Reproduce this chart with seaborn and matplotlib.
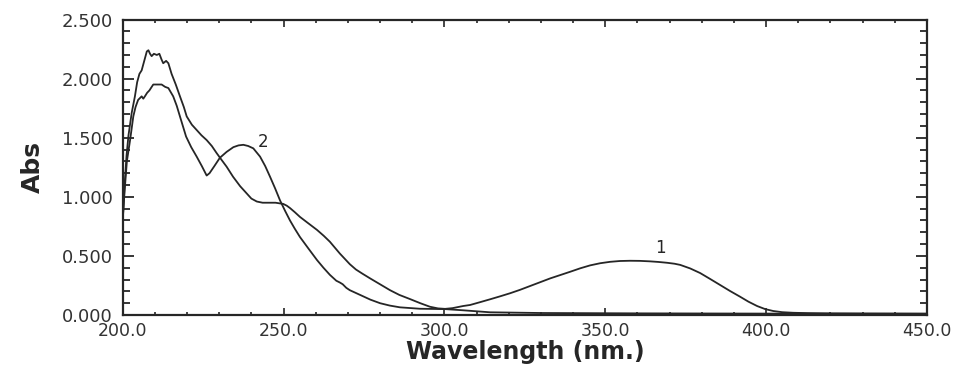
import numpy as np
import pandas as pd
import matplotlib
matplotlib.use("Agg")
import matplotlib.pyplot as plt
import seaborn as sns
from matplotlib.ticker import MultipleLocator, FormatStrFormatter

# ── Spectrum 1 (band at ~360 nm) ─────────────────────────────────────────────
wl1 = [200.0, 200.6, 201.2, 201.8, 202.8, 203.8, 204.5, 205.2, 205.9, 206.9,
       207.5, 208.0, 208.5, 209.0, 209.7, 210.6, 211.4, 212.1, 212.6, 213.5,
       214.2, 215.2, 216.5, 217.8, 219.0, 219.9, 221.5, 223.0, 224.5, 226.1,
       227.7, 229.2, 230.8, 232.3, 234.3, 236.5, 238.5, 240.0, 241.7, 243.5,
       245.0, 247.5, 249.9, 251.0, 252.0, 253.5, 255.1, 257.5, 260.4, 262.5,
       264.4, 267.5, 270.6, 272.5, 274.5, 276.9, 280.0, 283.1, 286.0, 289.3,
       292.5, 295.5, 298.0, 300.2, 302.5, 305.8, 308.0, 311.0, 314.2, 317.3,
       320.4, 323.5, 326.6, 329.8, 332.9, 336.0, 339.1, 342.2, 345.3, 348.4,
       351.5, 354.6, 357.7, 360.8, 363.9, 366.5, 369.2, 371.5, 373.3, 376.4,
       379.5, 382.6, 385.7, 388.8, 391.9, 394.5, 397.2, 399.7, 402.2, 405.0,
       408.4, 413.0, 419.0, 430.0, 450.0]
abs1 = [0.80, 1.10, 1.35, 1.52, 1.71, 1.85, 1.97, 2.04, 2.07, 2.17,
        2.23, 2.24, 2.21, 2.19, 2.21, 2.20, 2.21, 2.16, 2.13, 2.15,
        2.13, 2.04, 1.95, 1.85, 1.76, 1.68, 1.61, 1.565, 1.52, 1.48,
        1.43, 1.37, 1.31, 1.255, 1.17, 1.09, 1.03, 0.985, 0.96, 0.95,
        0.95, 0.95, 0.94, 0.925, 0.905, 0.87, 0.83, 0.78, 0.72, 0.67,
        0.62, 0.52, 0.43, 0.385, 0.35, 0.31, 0.26, 0.21, 0.17, 0.135,
        0.10, 0.07, 0.056, 0.052, 0.058, 0.076, 0.085, 0.108, 0.133, 0.158,
        0.184, 0.213, 0.245, 0.278, 0.31, 0.338, 0.366, 0.395, 0.42, 0.438,
        0.45, 0.457, 0.459, 0.458, 0.454, 0.449, 0.442, 0.434, 0.424, 0.394,
        0.355, 0.305, 0.254, 0.203, 0.155, 0.113, 0.076, 0.05, 0.034, 0.024,
        0.019, 0.016, 0.014, 0.013, 0.012]

# ── Spectrum 2 (band at ~238 nm) ─────────────────────────────────────────────
wl2 = [200.0, 200.6, 201.3, 202.3, 203.3, 204.0, 204.8, 205.9, 206.4, 206.9,
       207.6, 208.3, 209.5, 210.8, 212.1, 213.2, 214.2, 215.7, 216.8, 217.8,
       219.7, 221.3, 223.0, 224.6, 226.1, 227.0, 228.5, 230.2, 232.3, 234.4,
       236.0, 237.5, 239.0, 240.6, 242.7, 244.3, 245.8, 247.4, 248.9, 250.5,
       252.0, 253.5, 255.1, 257.8, 260.4, 262.4, 264.4, 266.4, 267.5, 268.4,
       269.5, 270.6, 273.8, 277.0, 280.0, 283.0, 286.2, 292.4, 300.2, 305.8,
       314.2, 330.0, 360.0, 400.0, 450.0]
abs2 = [0.80, 1.05, 1.30, 1.48, 1.68, 1.76, 1.82, 1.85, 1.83, 1.85,
        1.88, 1.90, 1.95, 1.95, 1.95, 1.93, 1.92, 1.85, 1.77, 1.68,
        1.51, 1.42, 1.34, 1.26, 1.18, 1.20, 1.26, 1.33, 1.38, 1.42,
        1.435, 1.44, 1.43, 1.41, 1.34, 1.26, 1.17, 1.07, 0.97, 0.88,
        0.80, 0.73, 0.66, 0.56, 0.465, 0.40, 0.34, 0.29, 0.275, 0.26,
        0.23, 0.21, 0.17, 0.13, 0.10, 0.08, 0.065, 0.053, 0.05, 0.04,
        0.023, 0.017, 0.014, 0.012, 0.010]

curve_labels = ["1", "2"]
label_pos_wl = [367.0, 243.7]
label_pos_abs = [0.567, 1.466]

x_ticks = [200, 250, 300, 350, 400, 450]
y_ticks = [0.0, 0.5, 1.0, 1.5, 2.0, 2.5]

df = pd.concat([
    pd.DataFrame({"wl": wl1, "abs": abs1, "curve": "1"}),
    pd.DataFrame({"wl": wl2, "abs": abs2, "curve": "2"}),
], ignore_index=True)

# ── Plot ─────────────────────────────────────────────────────────────────────
sns.set_style("white")
plt.rcParams["font.family"] = ["DejaVu Sans"]
ink = "#262626"

fig = plt.figure(figsize=(9.6, 3.66), dpi=100)
ax = fig.add_axes([0.1278, 0.1393, 0.8378, 0.8074])

sns.lineplot(data=df, x="wl", y="abs", hue="curve", palette=[ink, ink],
             estimator=None, sort=False, legend=False, linewidth=1.3, ax=ax)

for lab, x, y in zip(curve_labels, label_pos_wl, label_pos_abs):
    ax.text(x, y, lab, fontsize=12, color=ink, ha="center", va="center")

ax.set_xlim(200, 450)
ax.set_ylim(0, 2.5)
ax.set_xticks(x_ticks)
ax.set_yticks(y_ticks)
ax.xaxis.set_major_formatter(FormatStrFormatter("%.1f"))
ax.yaxis.set_major_formatter(FormatStrFormatter("%.3f"))
ax.xaxis.set_minor_locator(MultipleLocator(10))
ax.yaxis.set_minor_locator(MultipleLocator(0.1))

for s in ax.spines.values():
    s.set_visible(True)
    s.set_color(ink)
    s.set_linewidth(1.6)

ax.tick_params(axis="y", which="both", direction="in", left=True, right=True,
               color=ink, width=1.3, labelsize=13, labelcolor="#333333", pad=7)
ax.tick_params(axis="y", which="major", length=8)
ax.tick_params(axis="y", which="minor", length=5)
ax.tick_params(axis="x", which="both", direction="in", bottom=True, top=True,
               color=ink, width=1.2, labelsize=12.5, labelcolor="#333333", pad=5)
ax.tick_params(axis="x", which="major", length=5)
ax.tick_params(axis="x", which="minor", length=2.5)

ax.set_xlabel("Wavelength (nm.)", fontsize=17, fontweight="bold", color=ink,
              labelpad=0)
ax.set_ylabel("Abs", fontsize=18, fontweight="bold", color=ink, labelpad=12)

plt.savefig("out.png", dpi=100)
plt.close()
